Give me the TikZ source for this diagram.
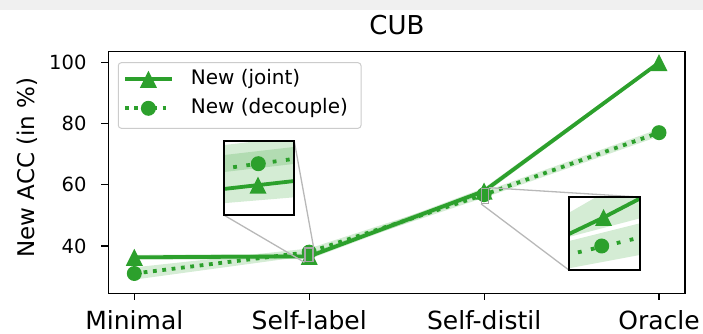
\documentclass[tikz,border=0pt]{standalone}
\usepackage{fontspec}
\setmainfont{DejaVu Sans}
\usepackage{tikz}
\usetikzlibrary{positioning, arrows.meta}
\definecolor{tabgreen}{HTML}{2CA02C}

\begin{document}
\begin{tikzpicture}[x=1pt, y=1pt,
        axframe/.style={line width=1.4pt},
        axtick/.style={line width=1.2pt},
        joint/.style={tabgreen, line width=3.8pt, line join=round},
        decouple/.style={tabgreen, line width=3.8pt, dash pattern=on 3.8pt off 5.6pt},
        insetdots/.style={tabgreen, line width=3.8pt, dash pattern=on 3.8pt off 9.5pt},
        band/.style={fill=tabgreen, fill opacity=0.2},
        zoomline/.style={draw=black!28, line width=1.3pt},
        zoomrect/.style={draw=black!35, line width=1.2pt, inner sep=0pt},
        insetbox/.style={draw=black, line width=1.6pt},
        ylab/.style={anchor=east, font=\fontsize{19.5}{22}\selectfont},
        xlab/.style={anchor=base, inner sep=0pt, font=\fontsize{25}{28}\selectfont},
        leglab/.style={anchor=west, font=\fontsize{20}{24}\selectfont},
        jointmark/.pic={\fill[tabgreen] (0,8.5pt) -- (-8.5pt,-8.5pt) -- (8.5pt,-8.5pt) -- cycle;},
        decouplemark/.pic={\fill[tabgreen] (0,0) circle[radius=7.5pt];}
    ]
    \useasboundingbox (0,0) rectangle (703,334);
    \fill[black!6] (0,324) rectangle (703,334);

    % Title and axis label
    \node[font=\fontsize{26}{30}\selectfont, anchor=base] (title) at (397,299) {CUB};
    \node[font=\fontsize{23}{26}\selectfont, rotate=90] (ylabel) at (27,166.5) {New ACC (in \%)};

    % Main axes, one y unit is one percent
    \begin{scope}[y=3.055pt, yshift=-34.2pt]
        \coordinate (j1) at (134.3,36.3);
        \coordinate (j2) at (309.2,36.6);
        \coordinate (j3) at (484.1,58.0);
        \coordinate (j4) at (659.0,100.0);
        \coordinate (d1) at (134.3,31.0);
        \coordinate (d2) at (309.2,38.0);
        \coordinate (d3) at (484.1,56.8);
        \coordinate (d4) at (659.0,77.1);

        % std bands
        \fill[band] (134.3,37.1) -- (309.2,37.5) -- (484.1,59.0) -- (659.0,100.6)
            -- (659.0,99.4) -- (484.1,57.0) -- (309.2,35.7) -- (134.3,35.5) -- cycle;
        \fill[band] (134.3,33.0) -- (309.2,39.2) -- (484.1,57.8) -- (659.0,78.3)
            -- (659.0,75.9) -- (484.1,55.8) -- (309.2,36.8) -- (134.3,29.0) -- cycle;

        \draw[joint] (j1) -- (j2) -- (j3) -- (j4);
        \draw[decouple] (d1) -- (d2) -- (d3) -- (d4);
        \foreach \p in {j1,j2,j3,j4} {\pic at (\p) {jointmark};}
        \foreach \p in {d1,d2,d3,d4} {\pic at (\p) {decouplemark};}

        % ticks
        \foreach \v in {40,60,80,100} {
            \draw[axtick] (101,\v) -- (108.3,\v);
            \node[ylab] (yt\v) at (90,\v) {\v};
        }
        \foreach \x/\lab [count=\i] in {134.3/Minimal, 309.2/Self-label, 484.1/Self-distil, 659/Oracle} {
            \draw[axtick] (\x,24.52) -- (\x,22.2);
            \node[xlab] (xt\i) at (\x,12.6) {\lab};
        }
        \draw[axframe] (108.3,24.52) rectangle (685,103.6);
    \end{scope}

    % Zoomed regions
    \node[zoomrect, minimum width=8pt, minimum height=13.7pt] (src1) at (309,79.15) {};
    \node[zoomrect, minimum width=6.6pt, minimum height=15pt] (src2) at (485,138.2) {};
    \node[fill=white, minimum width=69.7pt, minimum height=74pt, inner sep=0pt] (inset1) at (259.15,156) {};
    \node[fill=white, minimum width=70.7pt, minimum height=72.7pt, inner sep=0pt] (inset2) at (604.65,100.35) {};

    \draw[zoomline] (src1.south west) -- (inset1.south west);
    \draw[zoomline] (src1.north east) -- (inset1.north east);
    \draw[zoomline] (src2.south west) -- (inset2.south west);
    \draw[zoomline] (src2.north east) -- (inset2.north east);

    \begin{scope}
        \clip (inset1.south west) rectangle (inset1.north east);
        \fill[band] (220,130.5) -- (298,137) -- (298,187.5) -- (220,178.5) -- cycle;
        \fill[band] (220,161.5) -- (298,170.5) -- (298,197.5) -- (220,188.5) -- cycle;
        \draw[joint] (220,144.6) -- (298,153.4);
        \draw[insetdots] (220,165) -- (298,175.7);
        \pic at (258,148.8) {jointmark};
        \pic at (258.3,170.3) {decouplemark};
    \end{scope}
    \draw[insetbox] (inset1.south west) rectangle (inset1.north east);

    \begin{scope}
        \clip (inset2.south west) rectangle (inset2.north east);
        \fill[band] (565,96) -- (645,117) -- (645,165) -- (565,119) -- cycle;
        \fill[band] (565,65) -- (645,80) -- (645,112) -- (565,92) -- cycle;
        \draw[joint] (565,98.1) -- (603.5,116.5) -- (645,138.1);
        \draw[insetdots] (565,78.5) -- (645,97.7);
        \pic at (603.5,116.5) {jointmark};
        \pic at (601.7,88) {decouplemark};
    \end{scope}
    \draw[insetbox] (inset2.south west) rectangle (inset2.north east);

    % Legend
    \node[draw=black!20, fill=white, fill opacity=0.8, rounded corners=3pt, line width=1pt,
          minimum width=242.7pt, minimum height=65.6pt, inner sep=0pt] (legend) at (239.65,238.5) {};
    \draw[joint] (125,254.7) -- (171.7,254.7);
    \pic at (148.4,254.7) {jointmark};
    \node[leglab] (legjoint) at (187.3,254.7) {New (joint)};
    \draw[decouple] (125,225.7) -- (171.7,225.7);
    \pic at (148.4,225.7) {decouplemark};
    \node[leglab] (legdecouple) at (187.3,225.7) {New (decouple)};
\end{tikzpicture}
\end{document}
